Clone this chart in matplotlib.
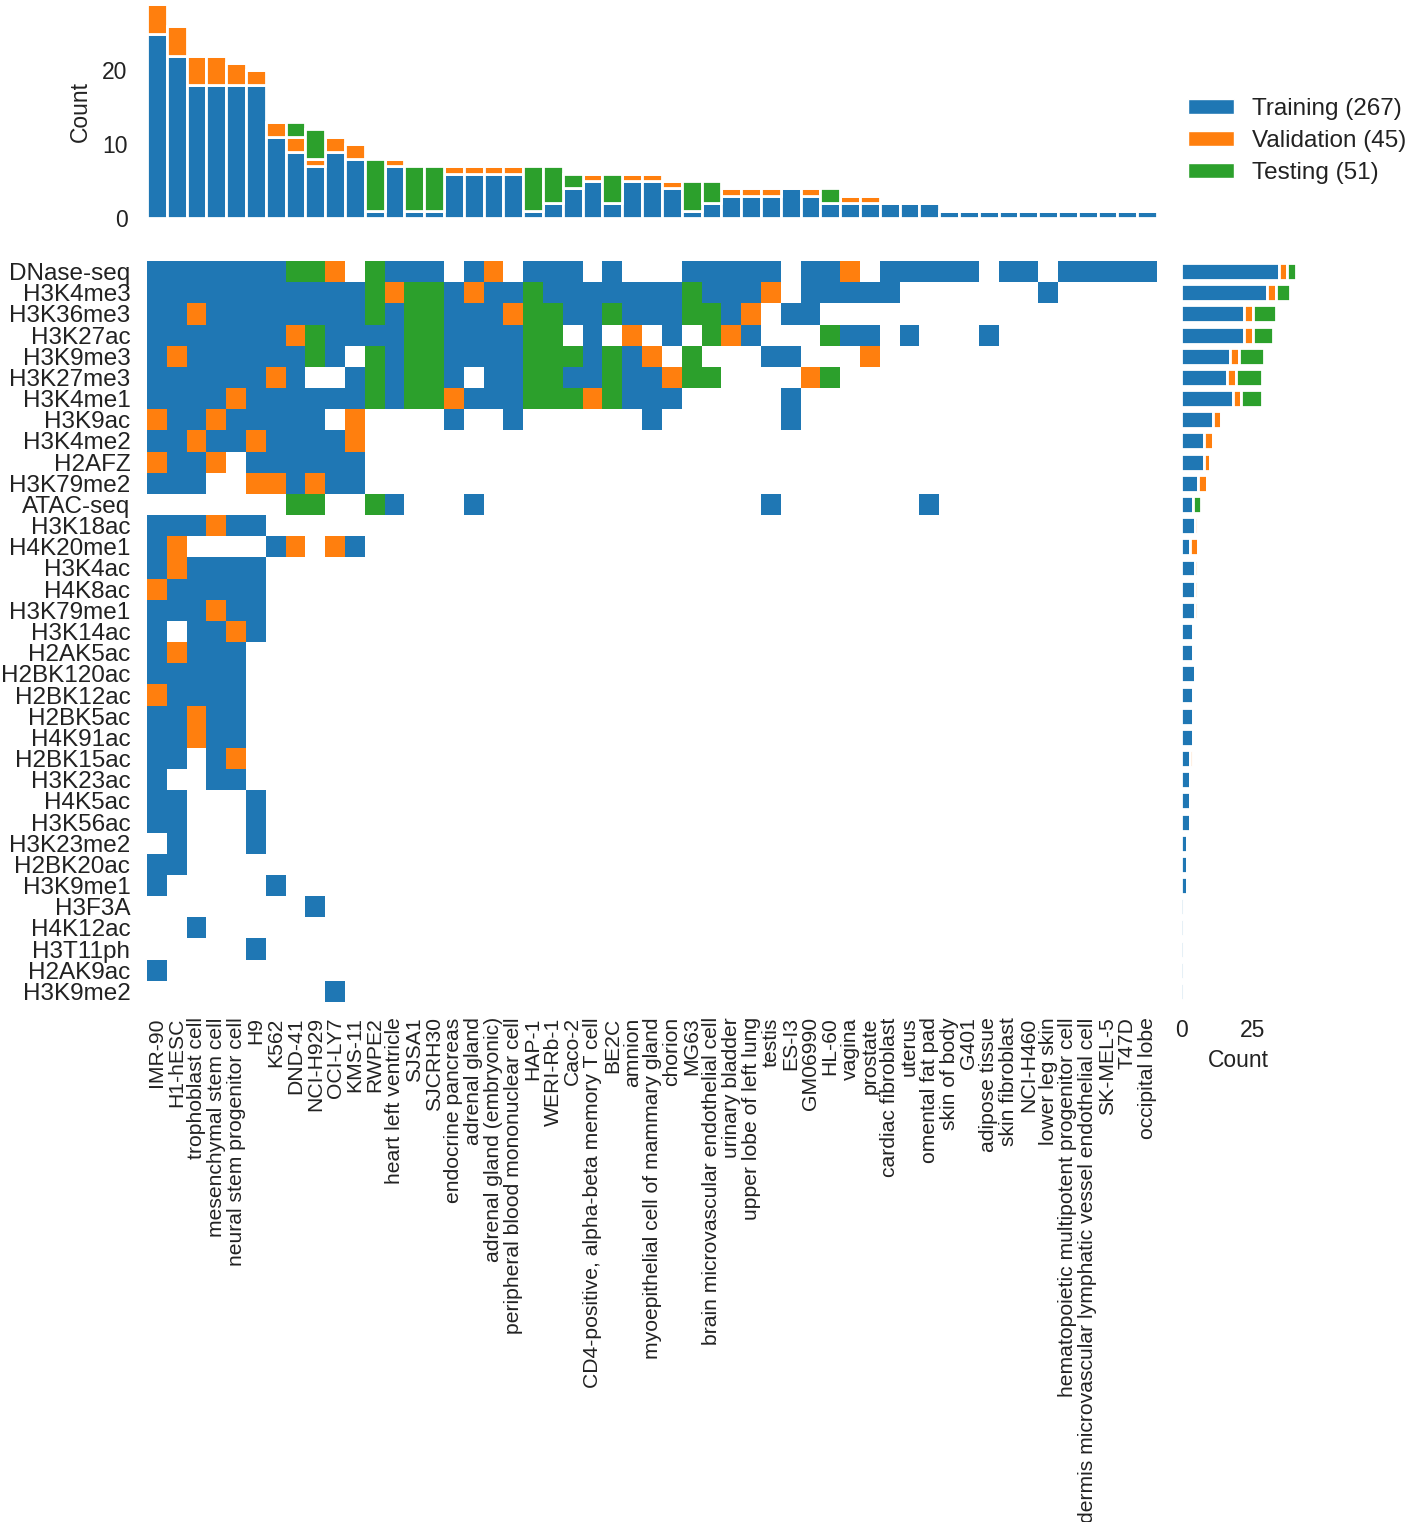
import numpy as np
import matplotlib.pyplot as plt
from matplotlib.colors import ListedColormap
from matplotlib.patches import Patch

plt.rcParams["font.family"] = ["Liberation Sans", "DejaVu Sans"]
plt.rcParams["text.color"] = "#222222"
plt.rcParams["axes.labelcolor"] = "#222222"
plt.rcParams["xtick.color"] = "#222222"
plt.rcParams["ytick.color"] = "#222222"

# cell types (columns) and assays (rows)
cell_types = [
    "IMR-90", "H1-hESC", "trophoblast cell", "mesenchymal stem cell",
    "neural stem progenitor cell", "H9", "K562", "DND-41", "NCI-H929", "OCI-LY7",
    "KMS-11", "RWPE2", "heart left ventricle", "SJSA1", "SJCRH30",
    "endocrine pancreas", "adrenal gland", "adrenal gland (embryonic)",
    "peripheral blood mononuclear cell", "HAP-1", "WERI-Rb-1", "Caco-2",
    "CD4-positive, alpha-beta memory T cell", "BE2C", "amnion",
    "myoepithelial cell of mammary gland", "chorion", "MG63",
    "brain microvascular endothelial cell", "urinary bladder",
    "upper lobe of left lung", "testis", "ES-I3", "GM06990", "HL-60", "vagina",
    "prostate", "cardiac fibroblast", "uterus", "omental fat pad", "skin of body",
    "G401", "adipose tissue", "skin fibroblast", "NCI-H460", "lower leg skin",
    "hematopoietic multipotent progenitor cell",
    "dermis microvascular lymphatic vessel endothelial cell", "SK-MEL-5", "T47D",
    "occipital lobe",
]

assays = [
    "DNase-seq", "H3K4me3", "H3K36me3", "H3K27ac", "H3K9me3", "H3K27me3",
    "H3K4me1", "H3K9ac", "H3K4me2", "H2AFZ", "H3K79me2", "ATAC-seq", "H3K18ac",
    "H4K20me1", "H3K4ac", "H4K8ac", "H3K79me1", "H3K14ac", "H2AK5ac",
    "H2BK120ac", "H2BK12ac", "H2BK5ac", "H4K91ac", "H2BK15ac", "H3K23ac",
    "H4K5ac", "H3K56ac", "H3K23me2", "H2BK20ac", "H3K9me1", "H3F3A", "H4K12ac",
    "H3T11ph", "H2AK9ac", "H3K9me2",
]

# T = training, V = validation, S = testing, . = missing (one string per assay)
split_grid = [
    "TTTTTTTSSV.STTT.TV.TTT.T...TTTTT.TTV.TTTTT.TT.TTTTT",
    "TTTTTTTTTTTSVSSTVTTSTTTTTTTSTTTV.TTTTT.......T.....",
    "TTVTTTTTTTTSTSSTTTVSSTTSTTTSSTV.TT.................",
    "TTTTTTTVSTTTTSSTTTTSS.T.V.T.SVT...STT.T...T........",
    "TVTTTTTTST.STSSTTTTSSSTSTV.S...TT...V..............",
    "TTTTTTVT..TSTSST.TTSSTTSTTVSS....VS................",
    "TTTTVTTTTTTSTSSVTTTSSSVSTTT.....T..................",
    "VTTVTTTTT.V....T..T......T......T..................",
    "TTVTTVTTTTV",
    "VTTV.TTTTTT",
    "TTT..VVTVTT",
    ".......SS..ST...T..............T.......T",
    "TTTVTT",
    "TV....TV.VT",
    "TVTTTT",
    "VTTTTT",
    "TTTVTT",
    "T.TTVT",
    "TVTTT",
    "TTTTT",
    "VTTTT",
    "TTVTT",
    "TTVTT",
    "TT.TV",
    "T..TT",
    "TT...T",
    "TT...T",
    ".T...T",
    "TT",
    "T.....T",
    "........T",
    "..T",
    ".....T",
    "T",
    ".........T",
]

split_names = ["Training", "Validation", "Testing"]
split_codes = ["T", "V", "S"]
split_colors = ["#1f77b4", "#ff7f0e", "#2ca02c"]

n_rows, n_cols = len(assays), len(cell_types)
mat = np.full((n_rows, n_cols), np.nan)
for i, row in enumerate(split_grid):
    for j, c in enumerate(row.ljust(n_cols, ".")):
        if c in split_codes:
            mat[i, j] = split_codes.index(c)

col_counts = [(mat == k).sum(axis=0) for k in range(3)]
row_counts = [(mat == k).sum(axis=1) for k in range(3)]
totals = [int((mat == k).sum()) for k in range(3)]

W, H = 1417, 1522
fig = plt.figure(figsize=(W / 100, H / 100), dpi=100)


def px_axes(left, top, right, bottom):
    return fig.add_axes([left / W, 1 - bottom / H, (right - left) / W, (bottom - top) / H])


ax_heat = px_axes(147, 261, 1157, 1002)
ax_top = px_axes(147, 4, 1157, 218)
ax_right = px_axes(1181, 261, 1296, 1002)

# heatmap
cmap = ListedColormap(split_colors)
ax_heat.pcolormesh(np.arange(n_cols + 1), np.arange(n_rows + 1),
                   np.ma.masked_invalid(mat), cmap=cmap, vmin=-0.5, vmax=2.5,
                   antialiased=False, linewidth=0)
ax_heat.set_xlim(0, n_cols)
ax_heat.set_ylim(n_rows, 0)
ax_heat.set_xticks(np.arange(n_cols) + 0.5)
ax_heat.set_xticklabels(cell_types, rotation=90, fontsize=15.2)
ax_heat.set_yticks(np.arange(n_rows) + 0.5)
ax_heat.set_yticklabels(assays, fontsize=17.5)
ax_heat.tick_params(axis="x", length=0, pad=11)
ax_heat.tick_params(axis="y", length=0, pad=12)

# top stacked bars per cell type
x = np.arange(n_cols) + 0.5
bottom = np.zeros(n_cols)
for k in range(3):
    ax_top.bar(x, col_counts[k], bottom=bottom, width=1.0, color=split_colors[k],
               edgecolor="white", linewidth=2)
    bottom += col_counts[k]
ax_top.set_xlim(0, n_cols)
ax_top.set_ylim(0, bottom.max())
ax_top.set_xticks([])
ax_top.set_yticks([0, 10, 20])
ax_top.tick_params(axis="y", length=0, pad=14, labelsize=16.5)
ax_top.set_ylabel("Count", fontsize=16.5, labelpad=7)

# right stacked bars per assay
y = np.arange(n_rows) + 0.5
left = np.zeros(n_rows)
for k in range(3):
    ax_right.barh(y, row_counts[k], left=left, height=0.8, color=split_colors[k],
                  edgecolor="white", linewidth=2)
    left += row_counts[k]
ax_right.set_ylim(n_rows, 0)
ax_right.set_xlim(0, left.max())
ax_right.set_yticks([])
ax_right.set_xticks([0, 25])
ax_right.tick_params(axis="x", length=0, pad=12, labelsize=16.5)
ax_right.set_xlabel("Count", fontsize=16.5, labelpad=5)

for ax in (ax_heat, ax_top, ax_right):
    for s in ax.spines.values():
        s.set_visible(False)
    ax.set_facecolor("white")

handles = [Patch(facecolor=split_colors[k], edgecolor="white",
                 label=f"{split_names[k]} ({totals[k]})") for k in range(3)]
fig.legend(handles=handles, loc="center left", bbox_to_anchor=(1178 / W, 1 - 141 / H),
           frameon=False, fontsize=17.5, handlelength=1.9, handleheight=0.55,
           handletextpad=0.75, labelspacing=0.42, borderaxespad=0)

fig.savefig("out.png", dpi=100, facecolor="white")
